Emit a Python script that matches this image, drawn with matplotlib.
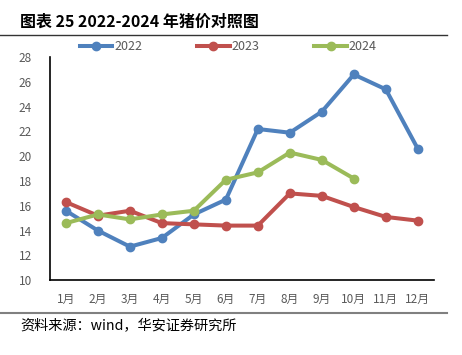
import matplotlib
matplotlib.use("Agg")
import matplotlib.pyplot as plt
from matplotlib.lines import Line2D

plt.rcParams['font.family'] = ['Noto Sans CJK SC', 'DejaVu Sans']

months = [1, 2, 3, 4, 5, 6, 7, 8, 9, 10, 11, 12]
month_labels = ['%d月' % m for m in months]
price_2022 = [15.6, 14.0, 12.7, 13.4, 15.3, 16.5, 22.2, 21.9, 23.6, 26.6, 25.4, 20.6]
price_2023 = [16.3, 15.2, 15.6, 14.6, 14.5, 14.4, 14.4, 17.0, 16.8, 15.9, 15.1, 14.8]
price_2024 = [14.6, 15.3, 14.9, 15.3, 15.6, 18.1, 18.7, 20.3, 19.7, 18.2]
yticks = [10, 12, 14, 16, 18, 20, 22, 24, 26, 28]

series = [
    ('2022', price_2022, '#4F81BD'),
    ('2023', price_2023, '#C0504D'),
    ('2024', price_2024, '#9BBB59'),
]

fig = plt.figure(figsize=(4.62, 3.55), dpi=100)
ax = fig.add_axes([0.108, 0.211, 0.831, 0.628])

for name, vals, col in series:
    ax.plot(months[:len(vals)], vals, color=col, lw=2.9, marker='o',
            markersize=6, solid_capstyle='round', label=name)

ax.set_xlim(0.5, 12.5)
ax.set_ylim(10, 28)
ax.set_yticks(yticks)
ax.set_xticks(months)
ax.set_xticklabels(month_labels)
for s in ['top', 'right']:
    ax.spines[s].set_visible(False)
for s in ['left', 'bottom']:
    ax.spines[s].set_color('black')
    ax.spines[s].set_linewidth(1.2)
ax.tick_params(length=0, labelsize=8.5, colors='#595959')
ax.tick_params(axis='x', pad=9)
ax.tick_params(axis='y', pad=13)

# legend above the plot
handles = [Line2D([0], [0], color=c, lw=2.9, marker='o', markersize=6) for _, _, c in series]
fig.legend(handles, [n for n, _, _ in series], loc='center', ncol=3,
           bbox_to_anchor=(0.494, 0.868), frameon=False, fontsize=9,
           labelcolor='#595959', columnspacing=4.4, handlelength=2.6, handletextpad=0.15)

# title, rules and source note
fig.text(0.043, 0.938, '图表 25 2022-2024 年猪价对照图', fontsize=11.5,
         fontweight='bold', va='center', ha='left', color='black')
fig.add_artist(Line2D([0, 0.968], [0.901, 0.901], color='#333333', lw=1.0))
fig.add_artist(Line2D([0, 0.968], [0.118, 0.118], color='#808080', lw=1.5))
fig.text(0.045, 0.080, '资料来源：wind，华安证券研究所', fontsize=10.2,
         va='center', ha='left', color='black')

fig.savefig('out.png', dpi=100)
